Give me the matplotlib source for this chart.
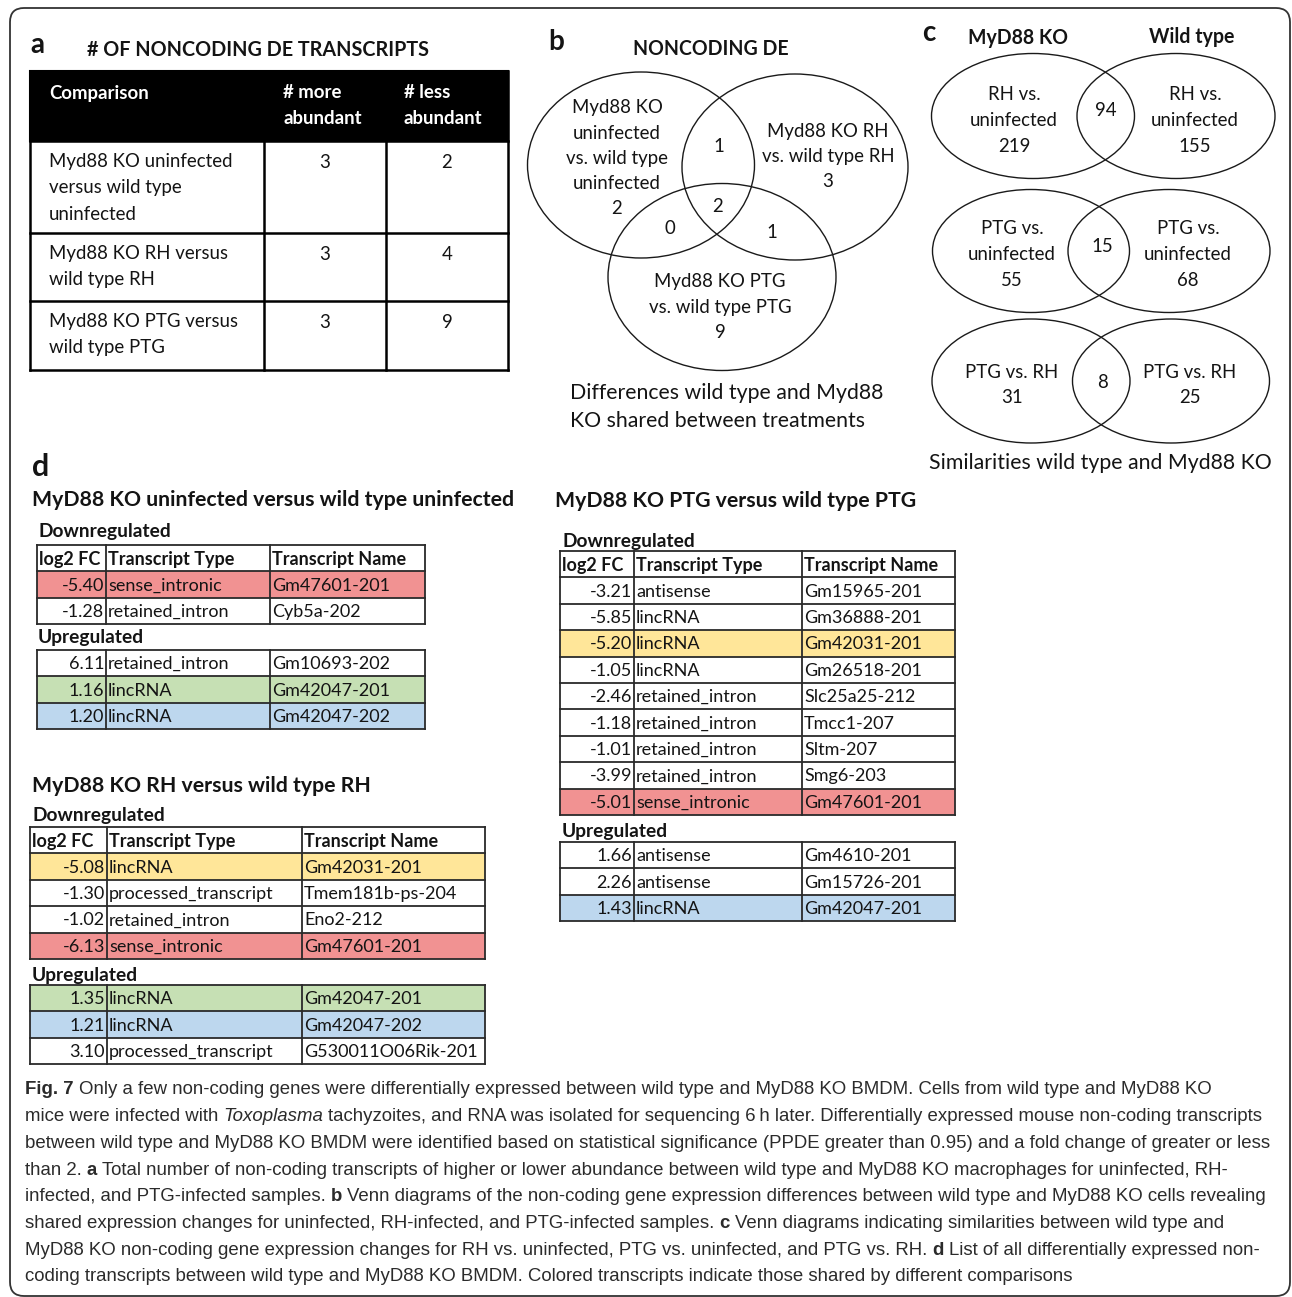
import matplotlib
matplotlib.use("Agg")
import matplotlib.pyplot as plt
from matplotlib.patches import Ellipse, Rectangle, FancyBboxPatch
from matplotlib import font_manager

# ---------------------------------------------------------------- data
# a: number of noncoding DE transcripts
comparisons = ["Myd88 KO uninfected\nversus wild type\nuninfected",
               "Myd88 KO RH versus\nwild type RH",
               "Myd88 KO PTG versus\nwild type PTG"]
more_abundant = [3, 3, 3]
less_abundant = [2, 4, 9]
header_a = ["Comparison", "# more\nabundant", "# less\nabundant"]

# b: three-way Venn of KO vs WT differences
venn3_labels = ["Myd88 KO\nuninfected\nvs. wild type\nuninfected",
                "Myd88 KO RH\nvs. wild type RH",
                "Myd88 KO PTG\nvs. wild type PTG"]
venn3_only = [2, 3, 9]
venn3_ab, venn3_ac, venn3_bc, venn3_abc = 1, 0, 1, 2

# c: two-way Venns, MyD88 KO vs wild type
venn2_labels = ["RH vs.\nuninfected", "PTG vs.\nuninfected", "PTG vs. RH"]
ko_only = [219, 55, 31]
wt_only = [155, 68, 25]
shared = [94, 15, 8]

# d: transcript lists
uninf_down_fc = [-5.40, -1.28]
uninf_down_type = ["sense_intronic", "retained_intron"]
uninf_down_name = ["Gm47601-201", "Cyb5a-202"]
uninf_down_hl = ["red", None]
uninf_up_fc = [6.11, 1.16, 1.20]
uninf_up_type = ["retained_intron", "lincRNA", "lincRNA"]
uninf_up_name = ["Gm10693-202", "Gm42047-201", "Gm42047-202"]
uninf_up_hl = [None, "green", "blue"]

rh_down_fc = [-5.08, -1.30, -1.02, -6.13]
rh_down_type = ["lincRNA", "processed_transcript", "retained_intron", "sense_intronic"]
rh_down_name = ["Gm42031-201", "Tmem181b-ps-204", "Eno2-212", "Gm47601-201"]
rh_down_hl = ["yellow", None, None, "red"]
rh_up_fc = [1.35, 1.21, 3.10]
rh_up_type = ["lincRNA", "lincRNA", "processed_transcript"]
rh_up_name = ["Gm42047-201", "Gm42047-202", "G530011O06Rik-201"]
rh_up_hl = ["green", "blue", None]

ptg_down_fc = [-3.21, -5.85, -5.20, -1.05, -2.46, -1.18, -1.01, -3.99, -5.01]
ptg_down_type = ["antisense", "lincRNA", "lincRNA", "lincRNA", "retained_intron",
                 "retained_intron", "retained_intron", "retained_intron", "sense_intronic"]
ptg_down_name = ["Gm15965-201", "Gm36888-201", "Gm42031-201", "Gm26518-201",
                 "Slc25a25-212", "Tmcc1-207", "Sltm-207", "Smg6-203", "Gm47601-201"]
ptg_down_hl = [None, None, "yellow", None, None, None, None, None, "red"]
ptg_up_fc = [1.66, 2.26, 1.43]
ptg_up_type = ["antisense", "antisense", "lincRNA"]
ptg_up_name = ["Gm4610-201", "Gm15726-201", "Gm42047-201"]
ptg_up_hl = [None, None, "blue"]

de_header = ["log2 FC", "Transcript Type", "Transcript Name"]

caption_lines = [
    [("Fig. 7", "b"), (" Only a few non-coding genes were differentially expressed between wild type and MyD88 KO BMDM. Cells from wild type and MyD88 KO", "n")],
    [("mice were infected with", "n"), (" Toxoplasma", "i"), (" tachyzoites, and RNA was isolated for sequencing 6\u2009h later. Differentially expressed mouse non-coding transcripts", "n")],
    [("between wild type and MyD88 KO BMDM were identified based on statistical significance (PPDE greater than 0.95) and a fold change of greater or less", "n")],
    [("than 2.", "n"), (" a", "b"), (" Total number of non-coding transcripts of higher or lower abundance between wild type and MyD88 KO macrophages for uninfected, RH-", "n")],
    [("infected, and PTG-infected samples.", "n"), (" b", "b"), (" Venn diagrams of the non-coding gene expression differences between wild type and MyD88 KO cells revealing", "n")],
    [("shared expression changes for uninfected, RH-infected, and PTG-infected samples.", "n"), (" c", "b"), (" Venn diagrams indicating similarities between wild type and", "n")],
    [("MyD88 KO non-coding gene expression changes for RH vs. uninfected, PTG vs. uninfected, and PTG vs. RH.", "n"), (" d", "b"), (" List of all differentially expressed non-", "n")],
    [("coding transcripts between wild type and MyD88 KO BMDM. Colored transcripts indicate those shared by different comparisons", "n")],
]

# ---------------------------------------------------------------- style
HL = {"red": "#F19292", "green": "#C6E0B4", "blue": "#BDD7EE", "yellow": "#FFE699"}
INK = "#141414"
FONT = ["Lato", "DejaVu Sans"]
_names = {f.name for f in font_manager.fontManager.ttflist}
CAP_FONT = ["Liberation Sans Narrow" if "Liberation Sans Narrow" in _names else "Liberation Sans",
            "DejaVu Sans"]

W, H = 1292, 1297
fig = plt.figure(figsize=(W / 100, H / 100), dpi=100)
ax = fig.add_axes([0, 0, 1, 1])
ax.set_xlim(0, W)
ax.set_ylim(H, 0)
ax.axis("off")
renderer = fig.canvas.get_renderer()


def text_width(s, size, family=FONT, weight="normal", style="normal"):
    t = ax.text(0, 0, s, fontsize=size, family=family, fontweight=weight, fontstyle=style)
    w = t.get_window_extent(renderer).width
    t.remove()
    return w


def fit(s, width, family=FONT, weight="normal", style="normal"):
    return 10 * width / text_width(s, 10, family, weight, style)


def txt(x, y, s, size, ha="left", weight="normal", color=INK, family=FONT, style="normal"):
    ax.text(x, y, s, fontsize=size, ha=ha, va="center", fontweight=weight,
            color=color, family=family, fontstyle=style)


S_LETTER = 20
S_A_TITLE = fit("# OF NONCODING DE TRANSCRIPTS", 341, weight="bold")
S_A_BODY = fit("Myd88 KO uninfected", 183)
S_HEAD = fit("NONCODING DE", 155, weight="bold")
S_VENN = fit("vs. wild type RH", 133)
S_VCAP = fit("Differences wild type and Myd88", 312)
S_D_TITLE = fit("MyD88 KO uninfected versus wild type uninfected", 484, weight="bold")
S_SUB = fit("Downregulated", 133, weight="bold")
S_CELL = fit("Gm47601-201", 118)
S_CAP = fit(caption_lines[2][0][0], 1253, family=CAP_FONT)

# outer frame
ax.add_patch(FancyBboxPatch((10, 8), 1280, 1288, boxstyle="round,pad=0,rounding_size=14",
                            fc="none", ec="#333333", lw=1.3))

# ---------------------------------------------------------------- panel a
txt(30, 45, "a", S_LETTER, weight="bold")
txt(87, 50, "# OF NONCODING DE TRANSCRIPTS", S_A_TITLE, weight="bold")
ax_l, ax_c1, ax_c2, ax_r = 30, 264, 386, 508
row_edges = [71, 141, 233, 301, 370]
ax.add_patch(Rectangle((ax_l, row_edges[0]), ax_r - ax_l, row_edges[1] - row_edges[0],
                       fc="black", ec="black", lw=1.5))
LINE = 26
for j, h in enumerate(header_a):
    x = [49, 283, 404][j]
    for k, line in enumerate(h.split("\n")):
        txt(x, row_edges[0] + 22 + k * LINE, line, S_A_BODY, weight="bold", color="white")
for i, comp in enumerate(comparisons):
    top = row_edges[i + 1]
    for k, line in enumerate(comp.split("\n")):
        txt(49, top + 21 + k * LINE, line, S_A_BODY)
    txt((ax_c1 + ax_c2) / 2, top + 21, str(more_abundant[i]), S_A_BODY, ha="center")
    txt((ax_c2 + ax_r) / 2, top + 21, str(less_abundant[i]), S_A_BODY, ha="center")
for y in row_edges[1:]:
    ax.plot([ax_l, ax_r], [y, y], color="black", lw=1.8, solid_capstyle="projecting")
for x in (ax_l, ax_r):
    ax.plot([x, x], [row_edges[0], row_edges[-1]], color="black", lw=1.8)
for x in (ax_c1, ax_c2):
    ax.plot([x, x], [row_edges[1], row_edges[-1]], color="black", lw=1.8)

# ---------------------------------------------------------------- panel b
txt(548, 42, "b", S_LETTER, weight="bold")
txt(711, 49, "NONCODING DE", S_HEAD, ha="center", weight="bold")
for (cx, cy, w, h) in [(641, 165, 227, 186), (795, 167, 226, 186), (722, 277, 228, 187)]:
    ax.add_patch(Ellipse((cx, cy), w, h, fc="none", ec="#1a1a1a", lw=1.0))
venn3_pos = [(617, 108), (828, 131), (720, 282)]
for (x, y), lab, n in zip(venn3_pos, venn3_labels, venn3_only):
    lines = lab.split("\n") + [str(n)]
    for k, line in enumerate(lines):
        txt(x, y + k * 25.2, line, S_VENN, ha="center")
txt(719, 147, str(venn3_ab), S_VENN, ha="center")
txt(670, 229, str(venn3_ac), S_VENN, ha="center")
txt(772, 233, str(venn3_bc), S_VENN, ha="center")
txt(718, 207, str(venn3_abc), S_VENN, ha="center")
txt(570, 393, "Differences wild type and Myd88", S_VCAP)
txt(570, 421, "KO shared between treatments", S_VCAP)

# ---------------------------------------------------------------- panel c
txt(922, 33, "c", S_LETTER, weight="bold")
txt(1018, 38, "MyD88 KO", S_HEAD, ha="center", weight="bold")
txt(1192, 37, "Wild type", S_HEAD, ha="center", weight="bold")
venn2_geo = [  # (left cx, right cx, cy, left w, right w, h, text y, mid x)
    (1033, 1176, 116, 203, 198, 125, 95, 1106),
    (1031, 1169, 251, 197, 202, 123, 229, 1102),
    (1031, 1171, 381, 198, 197, 124, 372, 1102),
]
for i, (lcx, rcx, cy, lw_, rw_, h, ty, mx) in enumerate(venn2_geo):
    ax.add_patch(Ellipse((lcx, cy), lw_, h, fc="none", ec="#1a1a1a", lw=1.0))
    ax.add_patch(Ellipse((rcx, cy), rw_, h, fc="none", ec="#1a1a1a", lw=1.0))
    lab_lines = venn2_labels[i].split("\n")
    for k, line in enumerate(lab_lines + [str(ko_only[i])]):
        txt(lcx - 19, ty + k * 25.5, line, S_VENN, ha="center")
    for k, line in enumerate(lab_lines + [str(wt_only[i])]):
        txt(rcx + 19, ty + k * 25.5, line, S_VENN, ha="center")
    mid_y = cy - 5 if len(lab_lines) > 1 else ty + 11
    txt(mx, mid_y, str(shared[i]), S_VENN, ha="center")
txt(1100, 463, "Similarities wild type and Myd88 KO", S_VCAP, ha="center")

# ---------------------------------------------------------------- panel d
ROW_H = 26.4


def de_table(x0, c1, c2, x1, top, fcs, types, names, hls, header):
    rows = []
    if header:
        rows.append((de_header[0], de_header[1], de_header[2], None, True))
    for fc, tp, nm, hl in zip(fcs, types, names, hls):
        rows.append((f"{fc:.2f}", tp, nm, hl, False))
    for i, (a, b, c, hl, bold) in enumerate(rows):
        y = top + i * ROW_H
        if hl:
            ax.add_patch(Rectangle((x0, y), x1 - x0, ROW_H, fc=HL[hl], ec="none"))
        yc = y + ROW_H / 2 + 1
        wt = "bold" if bold else "normal"
        if bold:
            txt(x0 + 2, yc, a, S_CELL, weight=wt)
        else:
            txt(c1 - 2, yc, a, S_CELL, ha="right")
        txt(c1 + 2, yc, b, S_CELL, weight=wt)
        txt(c2 + 2, yc, c, S_CELL, weight=wt)
    bottom = top + len(rows) * ROW_H
    for i in range(len(rows) + 1):
        y = top + i * ROW_H
        ax.plot([x0, x1], [y, y], color="#2a2a2a", lw=1.3, solid_capstyle="projecting")
    for x in (x0, c1, c2, x1):
        ax.plot([x, x], [top, bottom], color="#2a2a2a", lw=1.3)


txt(32, 467, "d", S_LETTER + 2, weight="bold")

# uninfected
txt(32, 500, "MyD88 KO uninfected versus wild type uninfected", S_D_TITLE, weight="bold")
txt(38, 532, "Downregulated", S_SUB, weight="bold")
de_table(37, 106, 270, 425, 545, uninf_down_fc, uninf_down_type, uninf_down_name, uninf_down_hl, True)
txt(38, 638, "Upregulated", S_SUB, weight="bold")
de_table(37, 106, 270, 425, 650, uninf_up_fc, uninf_up_type, uninf_up_name, uninf_up_hl, False)

# RH
txt(32, 786, "MyD88 KO RH versus wild type RH", S_D_TITLE, weight="bold")
txt(32, 816, "Downregulated", S_SUB, weight="bold")
de_table(30, 107, 302, 485, 827, rh_down_fc, rh_down_type, rh_down_name, rh_down_hl, True)
txt(32, 975, "Upregulated", S_SUB, weight="bold")
de_table(30, 107, 302, 485, 985, rh_up_fc, rh_up_type, rh_up_name, rh_up_hl, False)

# PTG
txt(555, 501, "MyD88 KO PTG versus wild type PTG", S_D_TITLE, weight="bold")
txt(562, 541, "Downregulated", S_SUB, weight="bold")
de_table(560, 634, 802, 955, 551, ptg_down_fc, ptg_down_type, ptg_down_name, ptg_down_hl, True)
txt(562, 831, "Upregulated", S_SUB, weight="bold")
de_table(560, 634, 802, 955, 842, ptg_up_fc, ptg_up_type, ptg_up_name, ptg_up_hl, False)

# ---------------------------------------------------------------- caption
STYLE = {"n": ("normal", "normal"), "b": ("bold", "normal"), "i": ("normal", "italic")}
space_w = text_width("a a", S_CAP, CAP_FONT) - text_width("aa", S_CAP, CAP_FONT)
for li, runs in enumerate(caption_lines):
    y = 1090 + li * 26.7
    x = 25
    for s, st in runs:
        wt, sy = STYLE[st]
        lead = len(s) - len(s.lstrip(" "))
        core = s.strip(" ")
        x += lead * space_w
        txt(x, y, core, S_CAP, weight=wt, style=sy, family=CAP_FONT, color="#2b2b2b")
        x += text_width(core, S_CAP, CAP_FONT, wt, sy)

fig.savefig("out.png", dpi=100)
